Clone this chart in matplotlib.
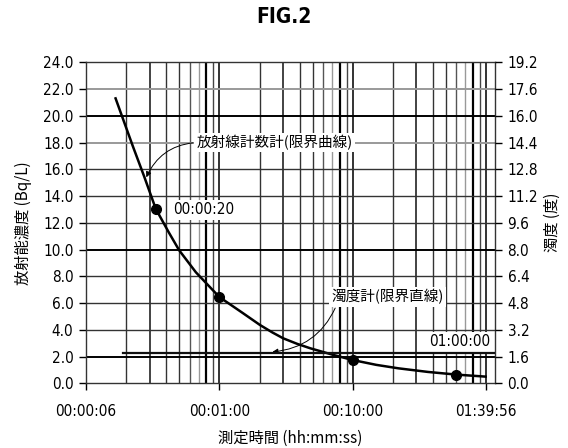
import matplotlib
matplotlib.use("Agg")
import matplotlib.pyplot as plt
from matplotlib.ticker import FixedLocator, NullFormatter

plt.rcParams["font.family"] = ["DejaVu Sans"]
plt.rcParams["font.stretch"] = "condensed"
JP = ["Noto Sans CJK JP", "DejaVu Sans"]

# radiation counter limit curve (seconds, Bq/L)
curve_t = [10, 13.5, 16.4, 20, 25, 30, 40, 60, 90, 121, 150, 181, 230, 288, 430, 600, 900, 1322, 2200, 3600, 5950]
curve_bq = [21.3, 17.7, 15.45, 13.05, 11.3, 9.94, 8.3, 6.45, 5.25, 4.36, 3.8, 3.36, 2.95, 2.62, 2.12, 1.74, 1.38, 1.12, 0.85, 0.65, 0.5]

# measured points
dot_t = [20, 60, 600, 3600]
dot_bq = [13.05, 6.45, 1.74, 0.65]

# turbidity meter limit line (right axis, degree)
turb_t = [11.4, 7000]
turb_deg = [1.8, 1.8]

x_ticks = [6, 60, 600, 6000]
x_labels = ["00:00:06", "00:01:00", "00:10:00", "01:39:56"]
left_ticks = [0, 2, 4, 6, 8, 10, 12, 14, 16, 18, 20, 22, 24]
right_ticks = [0, 1.6, 3.2, 4.8, 6.4, 8.0, 9.6, 11.2, 12.8, 14.4, 16.0, 17.6, 19.2]

fig = plt.figure(figsize=(5.68, 4.48), dpi=100)
ax = fig.add_axes([0.1514, 0.1444, 0.7201, 0.7166])
ax.set_xscale("log")
ax.set_xlim(6, 7000)
ax.set_ylim(0, 24)

# grid (patent-drawing style, some lines grey, some heavy)
vstyle = {2: ("#333333", 1.0), 3: ("#222222", 1.2), 4: ("#333333", 1.0), 5: ("#333333", 1.0),
          6: ("#555555", 1.0), 7: ("#999999", 1.0), 8: ("#000000", 1.6), 9: ("#444444", 1.0)}
for d in [1, 10, 100, 1000]:
    for k in range(1, 10):
        x = 6 * k * d
        if x >= 7000:
            continue
        if k == 1:
            c, lw = "#111111", 1.2
        else:
            c, lw = vstyle[k]
        ax.axvline(x, color=c, lw=lw, zorder=1)
hstyle = {22: ("#999999", 1.4), 18: ("#999999", 1.4), 20: ("#000000", 1.4),
          10: ("#000000", 1.4), 2: ("#000000", 1.4)}
for y in left_ticks[1:-1]:
    c, lw = hstyle.get(y, ("#333333", 1.0))
    ax.axhline(y, color=c, lw=lw, zorder=1)

ax.plot(curve_t, curve_bq, color="black", lw=1.8, zorder=3)
ax.plot(dot_t, dot_bq, "o", color="black", ms=7, zorder=4)

ax.xaxis.set_major_locator(FixedLocator(x_ticks))
ax.xaxis.set_minor_locator(FixedLocator([]))
ax.xaxis.set_minor_formatter(NullFormatter())
ax.set_xticks(x_ticks, x_labels)
ax.set_yticks(left_ticks, [f"{v:.1f}" for v in left_ticks])
ax.tick_params(axis="both", direction="out", length=5, width=1, labelsize=11, pad=4)
ax.tick_params(axis="x", pad=10)
for s in ax.spines.values():
    s.set_linewidth(1.0)
    s.set_color("#333333")

ax2 = ax.twinx()
ax2.set_ylim(0, 19.2)
ax2.plot(turb_t, turb_deg, color="#111111", lw=1.6, zorder=3)
ax2.set_yticks(right_ticks, [f"{v:.1f}" for v in right_ticks])
ax2.tick_params(axis="y", direction="out", length=5, width=1, labelsize=11, pad=4)
for s in ax2.spines.values():
    s.set_visible(False)

ax.set_ylabel("放射能濃度 (Bq/L)", family=JP, fontsize=11, labelpad=8)
ax2.set_ylabel("濁度 (度)", family=JP, fontsize=11, rotation=90)
ax2.yaxis.set_label_coords(1.12, 0.5)
ax.set_xlabel("測定時間 (hh:mm:ss)", family=JP, fontsize=11, labelpad=8)

bbox = dict(boxstyle="square,pad=0.15", fc="white", ec="none")
ax.annotate("放射線計数計(限界曲線)", xy=(17.0, 15.4), xytext=(40.5, 18.0),
            family=JP, fontsize=10.5, ha="left", va="center", bbox=bbox, zorder=5,
            arrowprops=dict(arrowstyle="-|>", lw=0.7, color="black", mutation_scale=8,
                            relpos=(0, 0.5), shrinkA=1, shrinkB=0,
                            connectionstyle="arc3,rad=0.3"))
ax.annotate("濁度計(限界直線)", xy=(150, 2.35), xytext=(413, 6.45),
            family=JP, fontsize=10.5, ha="left", va="center", bbox=bbox, zorder=5,
            arrowprops=dict(arrowstyle="-|>", lw=0.7, color="black", mutation_scale=8,
                            relpos=(0.05, 0), shrinkA=1, shrinkB=0,
                            connectionstyle="arc3,rad=-0.3"))
ax.text(26.8, 12.96, "00:00:20", fontsize=11, ha="left", va="center", zorder=5, bbox=bbox)
ax.text(2245, 3.09, "01:00:00", fontsize=11, ha="left", va="center", zorder=5, bbox=bbox)

fig.text(0.5, 0.962, "FIG.2", ha="center", va="center", fontsize=15, fontweight="bold")

fig.savefig("out.png", dpi=100)
